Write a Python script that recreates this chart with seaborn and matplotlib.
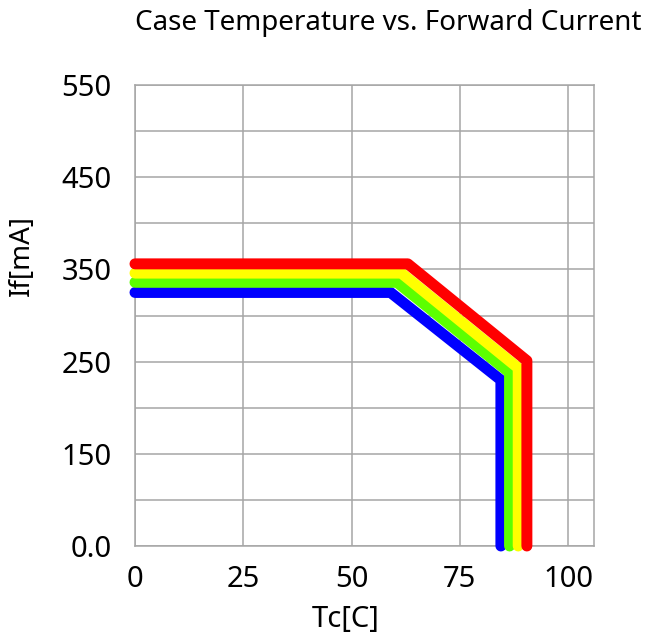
import matplotlib
matplotlib.use("Agg")
import matplotlib.pyplot as plt
import seaborn as sns
import pandas as pd
import numpy as np

# ---- data ----
series_names = ["blue", "green", "yellow", "red"]
red_x = [0, 63, 90.5, 90.5]
red_y = [356, 356, 251, 50]
yellow_x = [0, 61.5, 88.5, 88.5]
yellow_y = [346, 346, 243, 50]
green_x = [0, 60.5, 86.5, 86.5]
green_y = [336, 336, 238, 50]
blue_x = [0, 59, 84.5, 84.5]
blue_y = [325, 325, 230, 50]

x_ticks = [0, 25, 50, 75, 100]
x_tick_labels = ["0", "25", "50", "75", "100"]
y_ticks = [50, 150, 250, 350, 450, 550]
y_tick_labels = ["0.0", "150", "250", "350", "450", "550"]
y_minor = [100, 200, 300, 400, 500]

title = "Case Temperature vs. Forward Current"
x_label = "Tc[C]"
y_label = "If[mA]"

colors = {"red": "#FF0000", "yellow": "#FFFF00", "green": "#5CFF00", "blue": "#0000FF"}

rows = []
for name, xs, ys in [("blue", blue_x, blue_y), ("green", green_x, green_y),
                     ("yellow", yellow_x, yellow_y), ("red", red_x, red_y)]:
    for i, (a, b) in enumerate(zip(xs, ys)):
        rows.append({"series": name, "x": a, "y": b, "order": i})
df = pd.DataFrame(rows)

sns.set_theme(style="white")
plt.rcParams["font.family"] = ["Noto Sans", "DejaVu Sans"]
plt.rcParams["text.color"] = "black"
plt.rcParams["axes.labelcolor"] = "black"

fig = plt.figure(figsize=(6.45, 6.39), dpi=100)
ax = fig.add_axes([135/645, 1 - 546/639, (594-135)/645, (546-85)/639])

grid_c = "#a6a6a6"
ax.set_xlim(0, 106)
ax.set_ylim(50, 550)
ax.set_xticks(x_ticks)
ax.set_xticklabels(x_tick_labels)
ax.set_yticks(y_ticks)
ax.set_yticklabels(y_tick_labels)
ax.set_yticks(y_minor, minor=True)
ax.grid(True, which="both", color=grid_c, linewidth=1.1)
ax.set_axisbelow(True)
for s in ax.spines.values():
    s.set_color(grid_c)
    s.set_linewidth(1.1)
ax.tick_params(axis="both", which="both", length=0, labelsize=21, colors="black")
ax.tick_params(axis="x", pad=14)
ax.tick_params(axis="y", pad=17)

for name in series_names:
    sub = df[df["series"] == name]
    sns.lineplot(data=sub, x="x", y="y", sort=False, estimator=None,
                 color=colors[name], linewidth=7.9, ax=ax,
                 solid_capstyle="round", solid_joinstyle="round", clip_on=False,
                 zorder=3, legend=False)

ax.set_xlabel(x_label, fontsize=21, color="black")
ax.set_ylabel(y_label, fontsize=20, color="black")
ax.xaxis.set_label_coords((346-135)/459, (546-634)/461)
ax.xaxis.label.set_va("bottom")
ax.yaxis.set_label_coords((36-135)/459, (546-256)/461)
fig.text(388/645, 1 - 23/639, title, ha="center", va="center", fontsize=20, color="black")

fig.savefig("out.png", dpi=100)
